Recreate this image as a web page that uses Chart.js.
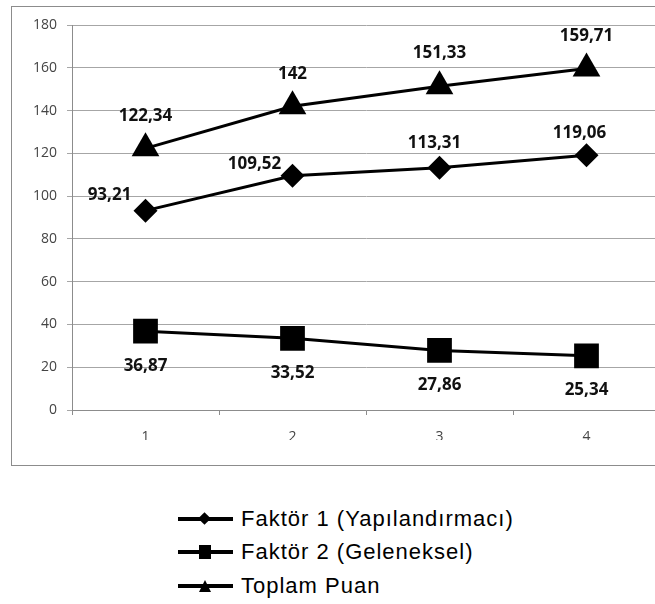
<!DOCTYPE html>
<html>
<head>
<meta charset="utf-8">
<title>Faktör puanları</title>
<script src="https://cdn.jsdelivr.net/npm/chart.js@4.4.1/dist/chart.umd.min.js"></script>
<style>
  html, body { margin: 0; padding: 0; background: #fff; overflow: hidden; }
  body { width: 655px; height: 604px; position: relative; }
  #frame { position: absolute; left: 11px; top: 6px; width: 700px; height: 458px; border: 1px solid #8c8c8c; }
  #wrap { position: absolute; left: 0; top: 0; width: 700px; height: 470px; }
  #legend { position: absolute; left: 178px; top: 502px; font-family: "Liberation Sans", Arial, sans-serif; font-size: 22px; letter-spacing: 1px; color: #000; }
  .row { height: 33.5px; display: flex; align-items: center; }
  .sample { position: relative; width: 55px; height: 30px; margin-right: 8px; }
  .sample .ln { position: absolute; left: 0; right: 0; top: 13px; height: 4px; background: #000; }
  .mk { position: absolute; background: #000; }
  .mk.dia { width: 9px; height: 9px; left: 22px; top: 10px; transform: rotate(45deg); }
  .mk.sq { width: 12px; height: 14px; left: 21px; top: 8px; }
  .mk.tri { width: 0; height: 0; background: none; left: 21px; top: 9px;
            border-left: 6.5px solid transparent; border-right: 6.5px solid transparent; border-bottom: 12px solid #000; }
</style>
</head>
<body>
<div id="frame"></div>
<div id="wrap"><canvas id="chart" width="700" height="470"></canvas></div>
<div id="legend"></div>
<script>
// data
var labels = ['1', '2', '3', '4'];
var faktor1 = [93.21, 109.52, 113.31, 119.06];
var faktor2 = [36.87, 33.52, 27.86, 25.34];
var toplam = [122.34, 142, 151.33, 159.71];
var seriesNames = ['Faktör 1 (Yapılandırmacı)', 'Faktör 2 (Geleneksel)', 'Toplam Puan'];
var yTicks = [0, 20, 40, 60, 80, 100, 120, 140, 160, 180];

function fmt(v) {
  return String(v).replace('.', ',');
}

// value labels, drawn after the datasets
var valueLabels = {
  id: 'valueLabels',
  afterDatasetsDraw: function(chart, args, opts) {
    var ctx = chart.ctx;
    ctx.save();
    ctx.font = 'bold 17px "Open Sans", sans-serif';
    ctx.fillStyle = '#111';
    ctx.textAlign = 'center';
    ctx.textBaseline = 'middle';
    chart.data.datasets.forEach(function(ds, i) {
      var meta = chart.getDatasetMeta(i);
      var off = opts.offsets[i];
      meta.data.forEach(function(pt, j) {
        ctx.fillText(fmt(ds.data[j]), pt.x + off[j][0], pt.y + off[j][1]);
      });
    });
    ctx.restore();
  }
};

var ctx = document.getElementById('chart').getContext('2d');
var chart = new Chart(ctx, {
  type: 'line',
  data: {
    labels: labels,
    datasets: [
      { label: seriesNames[0], data: faktor1, pointStyle: 'rectRot', pointRadius: 12 },
      { label: seriesNames[1], data: faktor2, pointStyle: 'rect', pointRadius: 17.5 },
      { label: seriesNames[2], data: toplam, pointStyle: 'triangle', pointRadius: 16 }
    ].map(function(d) {
      d.borderColor = '#000';
      d.backgroundColor = '#000';
      d.borderWidth = 3;
      d.pointBorderWidth = 0;
      d.pointHoverRadius = d.pointRadius;
      d.tension = 0;
      return d;
    })
  },
  options: {
    responsive: false,
    animation: false,
    events: [],
    layout: { padding: { left: 0, top: 25, right: 40, bottom: 30 } },
    plugins: {
      legend: { display: false },
      tooltip: { enabled: false },
      valueLabels: {
        offsets: [
          [[-36, -15], [-38, -12], [-5, -24], [-7, -22]],
          [[0, 35], [0, 35], [0, 35], [0, 34]],
          [[0, -32], [0, -32], [0, -33], [0, -32]]
        ]
      }
    },
    scales: {
      x: {
        offset: true,
        grid: { offset: true, drawOnChartArea: false, color: '#8c8c8c', tickLength: 5 },
        border: { color: '#8c8c8c' },
        ticks: { color: '#444', font: { family: '"Open Sans", sans-serif', size: 14 }, padding: 14 },
        afterFit: function(s) { s.height = 30; }
      },
      y: {
        min: 0,
        max: 180,
        afterBuildTicks: function(s) { s.ticks = yTicks.map(function(v) { return { value: v }; }); },
        grid: { color: '#a6a6a6', tickLength: 5 },
        border: { color: '#8c8c8c' },
        ticks: { color: '#444', font: { family: '"Open Sans", sans-serif', size: 14 }, padding: 10 },
        afterFit: function(s) { s.width = 72; }
      }
    }
  },
  plugins: [valueLabels]
});

// legend below the frame
var marks = ['dia', 'sq', 'tri'];
var legend = document.getElementById('legend');
seriesNames.forEach(function(name, i) {
  var row = document.createElement('div');
  row.className = 'row';
  row.innerHTML = '<div class="sample"><div class="ln"></div><div class="mk ' + marks[i] + '"></div></div><span>' + name + '</span>';
  legend.appendChild(row);
});
</script>
</body>
</html>
